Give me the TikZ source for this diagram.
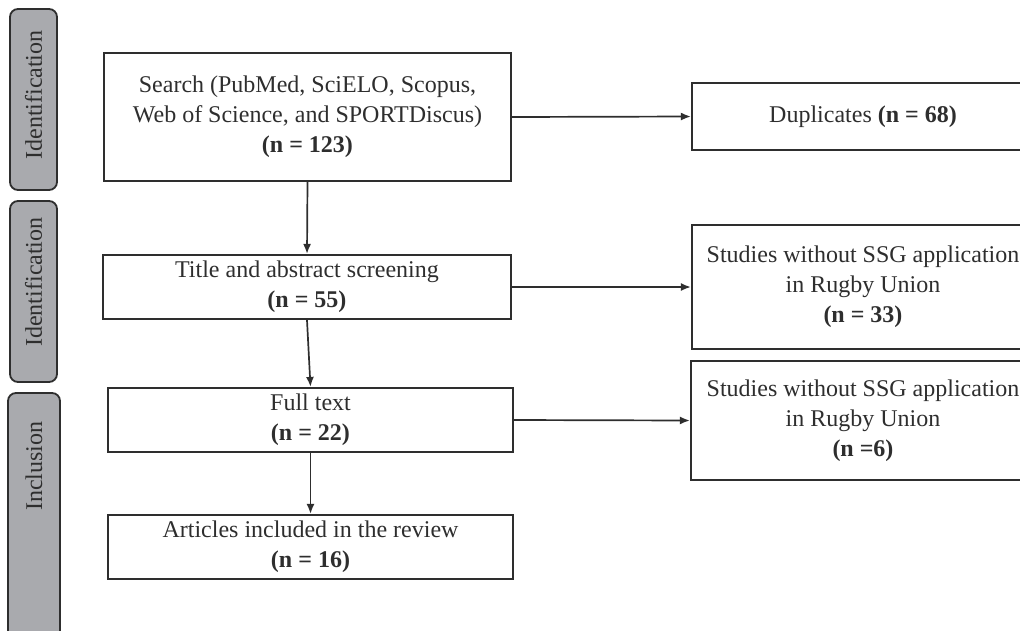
\documentclass[tikz,border=0pt]{standalone}
\usepackage{fontspec}
\setmainfont{Liberation Serif}
\usetikzlibrary{arrows.meta}

\definecolor{linegray}{HTML}{2E2E2E}
\definecolor{tabgray}{HTML}{A9AAAE}

\begin{document}
\begin{tikzpicture}
        [x=1pt, y=-1pt,
        every node/.style={font=\fontsize{24}{30}\selectfont, text=linegray},
        flowbox/.style={draw=linegray, line width=2.2pt, align=center, inner sep=0pt},
        tabbox/.style={draw=linegray, fill=tabgray, line width=1.8pt, rounded corners=8pt},
        tablabel/.style={rotate=90, font=\fontsize{24}{28}\selectfont},
        flow/.style={draw=linegray, line width=1.7pt, -{Latex[length=10pt, width=8pt]}}]

    \useasboundingbox (0,0) rectangle (1020,630);

    % stage tabs on the left
    \draw[tabbox] (10,9) rectangle (57,190);
    \node[tablabel] (tab1) at (33.5,95) {Identification};
    \draw[tabbox] (10,201) rectangle (57,382);
    \node[tablabel] (tab2) at (33.5,282) {Identification};
    \draw[tabbox] (8,393) rectangle (60,660);
    \node[tablabel] (tab3) at (34,466) {Inclusion};

    % main column
    \node[flowbox, minimum width=407pt, minimum height=128pt] (search) at (307.5,117)
      {Search (PubMed, SciELO, Scopus,\\ Web of Science, and SPORTDiscus)\\ \textbf{(n = 123)}};
    \node[flowbox, minimum width=408pt, minimum height=64pt] (screen) at (307,287)
      {Title and abstract screening\\ \textbf{(n = 55)}};
    \node[flowbox, minimum width=405pt, minimum height=64pt] (full) at (310.5,420)
      {Full text\\ \textbf{(n = 22)}};
    \node[flowbox, minimum width=405pt, minimum height=64pt] (incl) at (310.5,547)
      {Articles included in the review\\ \textbf{(n = 16)}};

    % excluded records
    \node[flowbox, minimum width=342pt, minimum height=67pt] (dup) at (863,116.5)
      {Duplicates \textbf{(n = 68)}};
    \node[flowbox, minimum width=342pt, minimum height=124pt] (excl1) at (863,287)
      {Studies without SSG application\\ in Rugby Union\\ \textbf{(n = 33)}};
    \node[flowbox, minimum width=344pt, minimum height=119pt] (excl2) at (863,420.5)
      {Studies without SSG application\\ in Rugby Union\\ \textbf{(n =6)}};

    \draw[flow] (search.south) -- (screen.north);
    \draw[flow] (screen.south) -- (full.north);
    \draw[flow] (full.south) -- (incl.north);
    \draw[flow] (search.east) -- (dup.west);
    \draw[flow] (screen.east) -- (excl1.west);
    \draw[flow] (full.east) -- (excl2.west);
\end{tikzpicture}
\end{document}
